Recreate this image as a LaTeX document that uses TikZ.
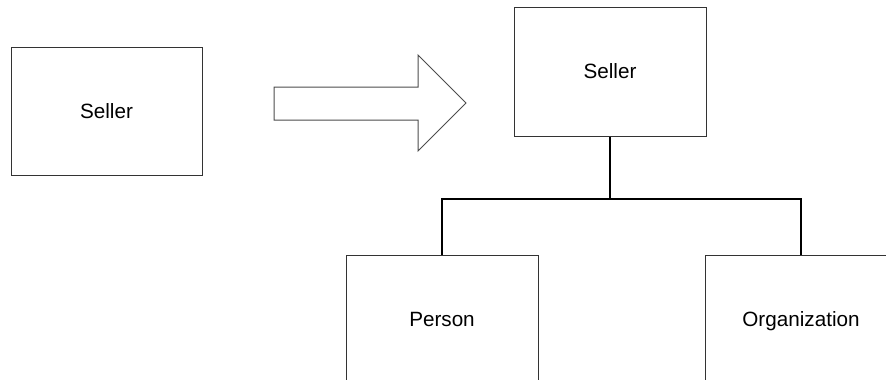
\documentclass[tikz,border=0pt]{standalone}
\usepackage{fontspec}
\setmainfont{Liberation Sans}
\usepackage{tikz}

\begin{document}
\begin{tikzpicture}[
    x=0.75pt, y=-0.75pt,
    entity/.style={rectangle, draw=black!80, line width=0.75pt, fill=white, minimum width=144pt, minimum height=96.75pt, inner sep=0pt, text height=11pt, text depth=0pt, font=\fontsize{15.5}{18}\selectfont},
    link/.style={draw=black, line width=1.5pt},
    bigarrow/.style={draw=black!70, line width=0.75pt, fill=white, line join=miter}
]
    \useasboundingbox (0,0) rectangle (886,379);
    \clip (0,0) rectangle (886,379);

    % Before
    \node[entity, minimum width=143.25pt, minimum height=96pt] (seller) at (106.5, 111) {Seller};

    % Block arrow between the two views
    \coordinate (tip) at (466, 103);
    \draw[bigarrow] (tip) -- ++(-48,-48) -- ++(0,32) -- ++(-144,0) -- ++(0,33) -- ++(144,0) -- ++(0,31) -- cycle;

    % After
    \node[entity] (super)  at (610, 71.5)  {Seller};
    \node[entity] (person) at (442, 319.5) {Person};
    \node[entity] (org)    at (801, 319.5) {Organization};

    % Tree links
    \coordinate (bus) at (610, 199);
    \draw[link] (super.south) -- (bus);
    \draw[link] (person.north) |- (bus) -| (org.north);
\end{tikzpicture}
\end{document}
